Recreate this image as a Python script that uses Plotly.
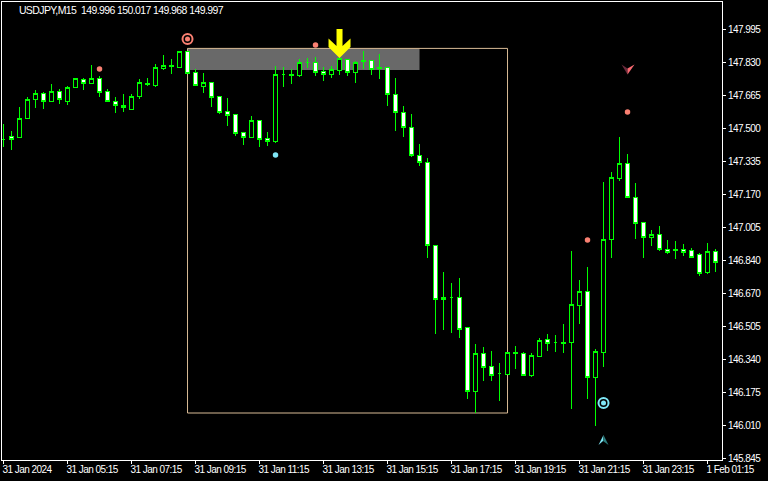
import plotly.graph_objects as go

OPEN = [147.445,147.46,147.455,147.55,147.645,147.675,147.635,147.685,147.635,147.705,
147.745,147.725,147.75,147.685,147.635,147.615,147.595,147.66,147.72,147.715,
147.80,147.81,147.805,147.885,147.78,147.71,147.73,147.66,147.585,147.57,
147.48,147.455,147.54,147.45,147.435,147.77,147.765,147.765,147.83,147.83,
147.785,147.77,147.79,147.845,147.78,147.835,147.84,147.80,147.805,147.67,
147.58,147.505,147.365,147.33,146.915,146.645,146.655,146.655,146.505,146.185,
146.375,146.31,146.275,146.27,146.375,146.375,146.265,146.36,146.445,146.43,
146.425,146.43,146.615,146.685,146.255,146.38,146.945,147.25,147.325,147.155,
147.03,146.955,146.97,146.895,146.89,146.895,146.89,146.87,146.78,146.885]
HIGH = [147.52,147.485,147.605,147.655,147.69,147.68,147.72,147.695,147.71,147.75,
147.75,147.815,147.76,147.695,147.655,147.67,147.67,147.745,147.75,147.82,
147.865,147.845,147.885,147.885,147.795,147.775,147.73,147.66,147.65,147.57,
147.48,147.56,147.54,147.48,147.81,147.805,147.795,147.845,147.85,147.855,
147.805,147.81,147.85,147.845,147.835,147.885,147.84,147.87,147.805,147.75,
147.61,147.57,147.42,147.35,146.915,146.78,146.725,146.75,146.505,146.42,
146.405,146.385,146.325,146.38,146.41,146.38,146.375,146.45,146.47,146.465,
146.52,146.885,146.74,146.805,146.395,147.23,147.28,147.455,147.37,147.225,
147.03,146.99,147.01,146.94,146.935,146.92,146.90,146.875,146.925,146.895]
LOW = [147.405,147.39,147.455,147.55,147.60,147.595,147.63,147.62,147.615,147.70,
147.69,147.725,147.655,147.63,147.575,147.58,147.595,147.645,147.71,147.705,
147.79,147.77,147.805,147.775,147.71,147.675,147.605,147.57,147.51,147.46,
147.415,147.45,147.405,147.41,147.425,147.705,147.72,147.755,147.80,147.76,
147.735,147.75,147.765,147.76,147.725,147.795,147.765,147.745,147.61,147.485,
147.455,147.355,147.31,146.85,146.47,146.49,146.475,146.45,146.145,146.075,
146.235,146.235,146.135,146.27,146.295,146.26,146.255,146.355,146.385,146.38,
146.375,146.095,146.52,146.145,146.01,146.305,146.85,147.235,147.155,146.945,
146.85,146.91,146.885,146.87,146.845,146.86,146.85,146.76,146.77,146.78]
CLOSE = [147.445,147.445,147.55,147.645,147.675,147.635,147.685,147.645,147.705,147.75,
147.725,147.75,147.68,147.635,147.615,147.605,147.66,147.73,147.725,147.805,
147.815,147.815,147.885,147.775,147.715,147.73,147.655,147.58,147.565,147.475,
147.455,147.54,147.445,147.435,147.77,147.77,147.77,147.83,147.83,147.78,
147.77,147.795,147.85,147.78,147.83,147.84,147.795,147.805,147.67,147.58,
147.505,147.365,147.33,146.915,146.645,146.655,146.655,146.495,146.185,146.375,
146.305,146.265,146.275,146.38,146.38,146.265,146.365,146.44,146.425,146.43,
146.43,146.62,146.685,146.255,146.385,146.945,147.255,147.325,147.155,147.025,
146.955,146.97,146.895,146.88,146.895,146.88,146.855,146.775,146.885,146.83]
BARS = list(range(len(OPEN)))

PRICE_TICKS = [147.995,147.83,147.665,147.5,147.335,147.17,147.005,146.84,146.675,146.51,146.345,146.18,146.015,145.85]
PRICE_LABELS = ["147.995","147.830","147.665","147.500","147.335","147.170","147.005","146.840","146.670","146.505","146.340","146.175","146.010","145.845"]
TIME_TICK_BARS = [0,8,16,24,32,40,48,56,64,72,80,88]
TIME_LABELS = ["31 Jan 2024","31 Jan 05:15","31 Jan 07:15","31 Jan 09:15","31 Jan 11:15","31 Jan 13:15",
               "31 Jan 15:15","31 Jan 17:15","31 Jan 19:15","31 Jan 21:15","31 Jan 23:15","1 Feb 01:15"]

SALMON_BARS = [12,39,73,78]
SALMON_PRICES = [147.795,147.915,146.94,147.58]
CYAN_BARS = [34]
CYAN_PRICES = [147.365]
RING_RED = (23, 147.945)
RING_CYAN = (75, 146.125)
BOX = dict(x0=23, x1=63, top=147.898, bottom=146.075)
ZONE = dict(x0=23, x1=52, top=147.898, bottom=147.79)
YELLOW_ARROW = (42, 147.85)
RED_ARROW = (78, 147.7675)
CYAN_ARROW = (75, 145.965)

TEXT = "USDJPY,M15  149.996 150.017 149.968 149.997"
GREEN = "#00ff00"; WHITE = "#ffffff"; FONT = "Liberation Sans"
SAL = "#fa8072"; CY = "#7fe6f5"

fig = go.Figure()
fig.add_trace(go.Candlestick(x=BARS, open=OPEN, high=HIGH, low=LOW, close=CLOSE, whiskerwidth=0,
    increasing=dict(line=dict(color=GREEN, width=1), fillcolor="#000000"),
    decreasing=dict(line=dict(color=GREEN, width=1), fillcolor=WHITE), showlegend=False, hoverinfo="skip"))
fig.add_trace(go.Scatter(x=SALMON_BARS, y=SALMON_PRICES, mode="markers", marker=dict(color=SAL, size=5.5), showlegend=False))
fig.add_trace(go.Scatter(x=CYAN_BARS, y=CYAN_PRICES, mode="markers", marker=dict(color=CY, size=5.5), showlegend=False))
for (b, p), c in ((RING_RED, SAL), (RING_CYAN, CY)):
    fig.add_trace(go.Scatter(x=[b], y=[p], mode="markers", showlegend=False,
        marker=dict(size=10, color="rgba(0,0,0,0)", line=dict(color=c, width=2))))
    fig.add_trace(go.Scatter(x=[b], y=[p], mode="markers", showlegend=False, marker=dict(size=5, color=c)))

fig.add_shape(type="rect", x0=ZONE["x0"], x1=ZONE["x1"], y0=ZONE["bottom"], y1=ZONE["top"],
              fillcolor="#696969", line_width=0, layer="below")
fig.add_shape(type="rect", x0=BOX["x0"], x1=BOX["x1"], y0=BOX["bottom"], y1=BOX["top"],
              fillcolor="rgba(0,0,0,0)", line=dict(color="#d9bb96", width=1), layer="below")

def pixel_path(anchor, path, fill):
    fig.add_shape(type="path", xsizemode="pixel", ysizemode="pixel", xanchor=anchor[0], yanchor=anchor[1],
                  path=path, fillcolor=fill, line_width=0, layer="above")

pixel_path(YELLOW_ARROW, "M -3 29 L 3 29 L 3 12 L 11 19.5 L 11 11 L 0 0 L -11 11 L -11 19.5 L -3 12 Z", "#ffff00")
pixel_path(RED_ARROW, "M 0 0 L 0 6 L -6 10 Z", "#6b2a3c")
pixel_path(RED_ARROW, "M 0 0 L 0 6 L 7 10 Z", "#fa6a72")
pixel_path(CYAN_ARROW, "M 0 0 L -0.5 -6 L -5 -10 Z", CY)
pixel_path(CYAN_ARROW, "M 0 0 L -0.5 -6 L 5 -10 Z", "#2a7a7a")

fig.add_annotation(x=0, y=1, xref="paper", yref="paper", xshift=2, yshift=0, xanchor="left", yanchor="top",
                   text=TEXT, showarrow=False, font=dict(family=FONT, size=10.5, color=WHITE))

axis_font = dict(family=FONT, size=10, color=WHITE)
fig.update_layout(width=768, height=481, autosize=False, margin=dict(l=2, r=46, t=2, b=21, pad=0),
    paper_bgcolor="#000000", plot_bgcolor="#000000", showlegend=False,
    xaxis=dict(range=[-0.19, 89.81], rangeslider=dict(visible=False), showgrid=False, zeroline=False,
               tickmode="array", tickvals=TIME_TICK_BARS, ticktext=TIME_LABELS, ticks="outside", ticklen=3,
               tickcolor=WHITE, tickwidth=1, ticklabelposition="outside right", ticklabelshift=-2, tickfont=axis_font, tickangle=0,
               automargin=False, showline=True, linecolor=WHITE, linewidth=1, mirror=True),
    yaxis=dict(range=[145.84, 148.13], showgrid=False, zeroline=False, side="right", automargin=False,
               tickmode="array", tickvals=PRICE_TICKS, ticktext=PRICE_LABELS, ticks="outside", ticklen=3,
               tickcolor=WHITE, tickwidth=1, tickfont=axis_font,
               showline=True, linecolor=WHITE, linewidth=1, mirror=True))

CSS = ("path.box{shape-rendering:crispEdges}"
       ".xtick text,.ytick text{letter-spacing:-0.55px}"
       ".annotation-text{letter-spacing:-0.6px}")
POST = ("document.body.style.margin='0';document.body.style.background='#000';"
        "var s=document.createElement('style');s.textContent='" + CSS + "';document.head.appendChild(s);")
fig.write_html("out.html", config=dict(displayModeBar=False), post_script=POST)
